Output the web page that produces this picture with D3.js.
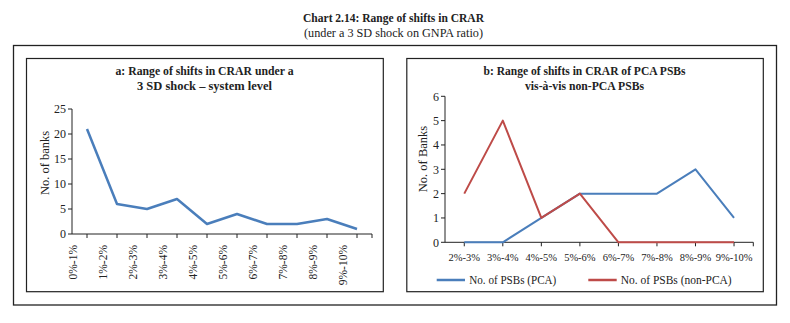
<!DOCTYPE html>
<html>
<head>
<meta charset="utf-8">
<script src="https://cdn.jsdelivr.net/npm/d3@7"></script>
<style>
  html, body { margin: 0; padding: 0; background: #fff; }
  svg { display: block; font-family: "Liberation Serif", "DejaVu Serif", serif; }
</style>
</head>
<body>
<svg id="chart" width="790" height="323"></svg>
<script>
// ---- Data ----
const mainTitle = "Chart 2.14: Range of shifts in CRAR";
const mainSubtitle = "(under a 3 SD shock on GNPA ratio)";

const titleA = ["a: Range of shifts in CRAR under a", "3 SD shock \u2013 system level"];
const categoriesA = ["0%-1%", "1%-2%", "2%-3%", "3%-4%", "4%-5%", "5%-6%", "6%-7%", "7%-8%", "8%-9%", "9%-10%"];
const valuesA = [21, 6, 5, 7, 2, 4, 2, 2, 3, 1];
const yTicksA = [0, 5, 10, 15, 20, 25];
const yLabelA = "No. of banks";

const titleB = ["b: Range of shifts in CRAR of PCA PSBs", "vis-\u00e0-vis non-PCA PSBs"];
const categoriesB = ["2%-3%", "3%-4%", "4%-5%", "5%-6%", "6%-7%", "7%-8%", "8%-9%", "9%-10%"];
const seriesNamesB = ["No. of PSBs (PCA)", "No. of PSBs (non-PCA)"];
const pcaValues = [0, 0, 1, 2, 2, 2, 3, 1];
const nonPcaValues = [2, 5, 1, 2, 0, 0, 0, 0];
const yTicksB = [0, 1, 2, 3, 4, 5, 6];
const yLabelB = "No. of Banks";

const BLUE = "#4a7ebb";
const RED = "#be4b48";
const INK = "#222";

const svg = d3.select("#chart");

// ---- Main titles ----
svg.append("text").attr("x", 393.5).attr("y", 22).attr("text-anchor", "middle")
  .attr("font-size", 12.5).attr("font-weight", 600).attr("fill", INK)
  .attr("textLength", 181).attr("lengthAdjust", "spacingAndGlyphs").text(mainTitle);
svg.append("text").attr("x", 393.5).attr("y", 37).attr("text-anchor", "middle")
  .attr("font-size", 12).attr("fill", INK)
  .attr("textLength", 179).attr("lengthAdjust", "spacingAndGlyphs").text(mainSubtitle);

// ---- Frames ----
svg.append("rect").attr("x", 13.5).attr("y", 45.5).attr("width", 763).attr("height", 259.5)
  .attr("fill", "none").attr("stroke", INK).attr("stroke-width", 1.3);
svg.append("rect").attr("x", 26.5).attr("y", 58.5).attr("width", 356.8).attr("height", 233.2)
  .attr("fill", "none").attr("stroke", INK).attr("stroke-width", 1.2);
svg.append("rect").attr("x", 406.8).attr("y", 58.5).attr("width", 356.5).attr("height", 233.2)
  .attr("fill", "none").attr("stroke", INK).attr("stroke-width", 1.2);

function panelTitle(lines, cx, widths) {
  lines.forEach((t, i) => {
    svg.append("text").attr("x", cx).attr("y", 75 + i * 14.5).attr("text-anchor", "middle")
      .attr("font-size", 11.5).attr("font-weight", "bold").attr("fill", INK)
      .attr("textLength", widths[i]).attr("lengthAdjust", "spacingAndGlyphs").text(t);
  });
}

function yAxis(g, scale, ticks, x0) {
  g.append("line").attr("x1", x0).attr("x2", x0)
    .attr("y1", scale.range()[0]).attr("y2", scale.range()[1])
    .attr("stroke", INK).attr("stroke-width", 1);
  ticks.forEach(t => {
    g.append("line").attr("x1", x0 - 4).attr("x2", x0).attr("y1", scale(t)).attr("y2", scale(t))
      .attr("stroke", INK).attr("stroke-width", 1);
    g.append("text").attr("x", x0 - 6).attr("y", scale(t)).attr("dy", "0.35em")
      .attr("text-anchor", "end").attr("font-size", 12).attr("fill", INK).text(t);
  });
}

function xAxis(g, xs, y0) {
  const [a, b] = xs.range();
  g.append("line").attr("x1", a).attr("x2", b).attr("y1", y0).attr("y2", y0)
    .attr("stroke", INK).attr("stroke-width", 1);
  const tickPos = xs.domain().map(d => xs(d)).concat([b]);
  tickPos.forEach(p => {
    g.append("line").attr("x1", p).attr("x2", p).attr("y1", y0).attr("y2", y0 + 4)
      .attr("stroke", INK).attr("stroke-width", 1);
  });
}

// ---- Panel A ----
panelTitle(titleA, 204.5, [178, 135]);
const gA = svg.append("g");
const xA = d3.scalePoint().domain(categoriesA).range([72, 372]).padding(0.5);
const yA = d3.scaleLinear().domain([0, 25]).range([234, 109]);
yAxis(gA, yA, yTicksA, 72);
xAxis(gA, xA, 234);
categoriesA.forEach(c => {
  const x = xA(c) - xA.step() / 2 + 1;
  gA.append("text").attr("transform", `translate(${x},245) rotate(-90)`)
    .attr("text-anchor", "end").attr("dy", "0.35em")
    .attr("font-size", 11.5).attr("fill", INK).text(c);
});
gA.append("text").attr("transform", "translate(45,163) rotate(-90)")
  .attr("text-anchor", "middle").attr("dy", "0.35em")
  .attr("font-size", 12.5).attr("fill", INK).text(yLabelA);
const lineA = d3.line().x((d, i) => xA(categoriesA[i])).y(d => yA(d));
gA.append("path").datum(valuesA).attr("d", lineA).attr("fill", "none")
  .attr("stroke", BLUE).attr("stroke-width", 2.5).attr("stroke-linejoin", "round");

// ---- Panel B ----
panelTitle(titleB, 584.5, [202, 119]);
const gB = svg.append("g");
const xB = d3.scalePoint().domain(categoriesB).range([445, 753.3]).padding(0.5);
const yB = d3.scaleLinear().domain([0, 6]).range([242.3, 96.3]);
yAxis(gB, yB, yTicksB, 445);
xAxis(gB, xB, 242.3);
categoriesB.forEach(c => {
  gB.append("text").attr("x", xB(c)).attr("y", 257.7).attr("dy", "0.35em")
    .attr("text-anchor", "middle").attr("font-size", 10.5).attr("fill", INK).text(c);
});
gB.append("text").attr("transform", "translate(422.5,159) rotate(-90)")
  .attr("text-anchor", "middle").attr("dy", "0.35em")
  .attr("font-size", 12.5).attr("fill", INK).text(yLabelB);
const lineB = d3.line().x((d, i) => xB(categoriesB[i])).y(d => yB(d));
const seriesB = [
  { name: seriesNamesB[0], values: pcaValues, color: BLUE },
  { name: seriesNamesB[1], values: nonPcaValues, color: RED }
];
seriesB.forEach(s => {
  gB.append("path").datum(s.values).attr("d", lineB).attr("fill", "none")
    .attr("stroke", s.color).attr("stroke-width", 2).attr("stroke-linejoin", "round");
});

// ---- Legend ----
const legendPos = [{ x1: 436.7, x2: 465, tx: 469.3, w: 87 }, { x1: 588.3, x2: 616.7, tx: 620.7, w: 111 }];
seriesB.forEach((s, i) => {
  const p = legendPos[i];
  svg.append("line").attr("x1", p.x1).attr("x2", p.x2).attr("y1", 280).attr("y2", 280)
    .attr("stroke", s.color).attr("stroke-width", 2.5);
  svg.append("text").attr("x", p.tx).attr("y", 280).attr("dy", "0.35em")
    .attr("font-size", 12.5).attr("fill", INK)
    .attr("textLength", p.w).attr("lengthAdjust", "spacingAndGlyphs").text(s.name);
});
</script>
</body>
</html>
